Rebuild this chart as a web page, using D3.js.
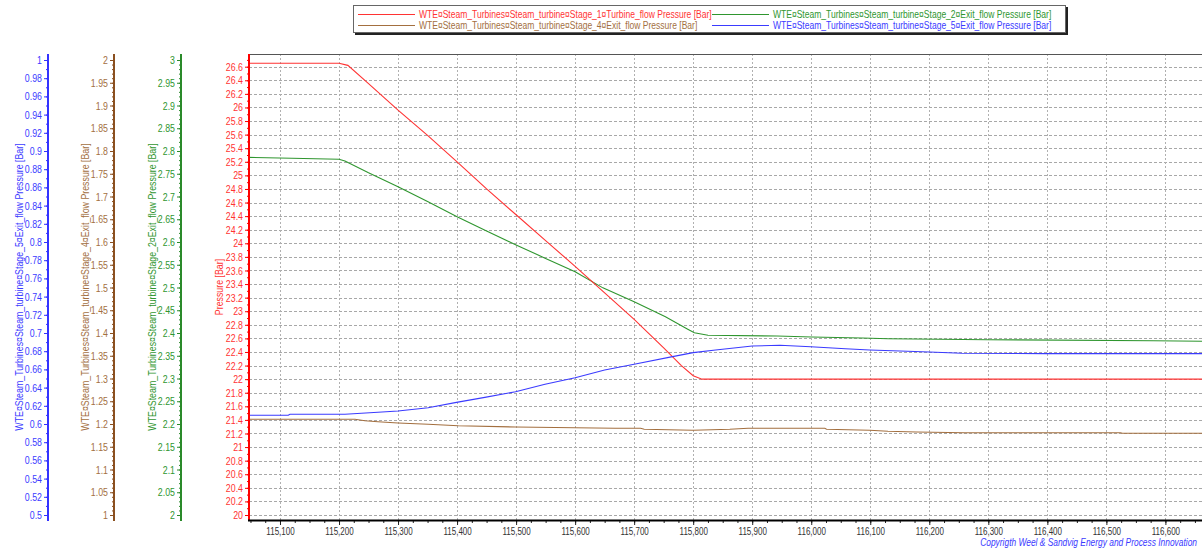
<!DOCTYPE html>
<html>
<head>
<meta charset="utf-8">
<script src="https://cdn.jsdelivr.net/npm/d3@7"></script>
<style>
  body { margin: 0; background: #fff; }
  svg text { font-family: 'Liberation Sans', Arial, sans-serif; font-size: 11px; }
</style>
</head>
<body>
<svg id="chart" width="1202" height="554"></svg>
<script>
// series data, time on x, each series in the units of its own axis
const redT   = [115047, 115100, 115200, 115215, 115250, 115300, 115350, 115400, 115450, 115500, 115550, 115600, 115650, 115700, 115750, 115780, 115800, 115815, 116000, 116300, 116662];
const redV   = [26.65, 26.65, 26.65, 26.62, 26.35, 25.96, 25.59, 25.2, 24.8, 24.42, 24.04, 23.66, 23.27, 22.88, 22.46, 22.2, 22.05, 22.0, 22.0, 22.0, 22.0];

const greenT = [115046, 115120, 115200, 115210, 115250, 115300, 115350, 115400, 115450, 115500, 115550, 115600, 115647, 115700, 115753, 115790, 115802, 115825, 115942, 116001, 116086, 116131, 116300, 116580, 116662];
const greenV = [2.786, 2.784, 2.782, 2.778, 2.752, 2.7215, 2.689, 2.6556, 2.624, 2.5934, 2.564, 2.5347, 2.4992, 2.4688, 2.4358, 2.409, 2.4007, 2.3949, 2.3934, 2.3912, 2.389, 2.3875, 2.3853, 2.3831, 2.3818];

const brownT = [115046, 115227, 115244, 115266, 115300, 115351, 115402, 115499, 115600, 115668, 115711, 115717, 115800, 115862, 115893, 116023, 116026, 116099, 116130, 116178, 116260, 116524, 116527, 116662];
const brownV = [1.2103, 1.2103, 1.2073, 1.2051, 1.2022, 1.1993, 1.1963, 1.1934, 1.1919, 1.1905, 1.1905, 1.1884, 1.1862, 1.1884, 1.1905, 1.1905, 1.1884, 1.1862, 1.184, 1.1824, 1.1809, 1.1809, 1.1796, 1.1796];

const blueT  = [115046, 115114, 115117, 115210, 115266, 115300, 115351, 115399, 115447, 115499, 115549, 115600, 115650, 115700, 115765, 115800, 115838, 115900, 115947, 115999, 116058, 116099, 116163, 116200, 116255, 116399, 116662];
const blueV  = [0.6096, 0.6096, 0.6107, 0.6107, 0.6129, 0.6143, 0.6179, 0.6238, 0.6293, 0.6355, 0.6436, 0.6509, 0.6593, 0.6656, 0.674, 0.6784, 0.6813, 0.6857, 0.6865, 0.6849, 0.6827, 0.6813, 0.6799, 0.6791, 0.6777, 0.6773, 0.6773];

// tick labels
const xTicks     = d3.range(115100, 116601, 100);
const xMinor     = d3.range(115050, 116661, 25);
const mainTicks  = d3.range(0, 34).map(i => 20 + i * 0.2);
const mainMinor  = d3.range(0, 68).map(i => 20 + i * 0.1);
const blueTicks  = d3.range(0, 26).map(i => 0.5 + i * 0.02);
const blueMinor  = d3.range(0, 51).map(i => 0.5 + i * 0.01);
const brownTicks = d3.range(0, 21).map(i => 1 + i * 0.05);
const brownMinor = d3.range(0, 101).map(i => 1 + i * 0.01);
const greenTicks = d3.range(0, 21).map(i => 2 + i * 0.05);
const greenMinor = d3.range(0, 101).map(i => 2 + i * 0.01);

const legendNames = [
  'WTE¤Steam_Turbines¤Steam_turbine¤Stage_1¤Turbine_flow Pressure [Bar]',
  'WTE¤Steam_Turbines¤Steam_turbine¤Stage_2¤Exit_flow Pressure [Bar]',
  'WTE¤Steam_Turbines¤Steam_turbine¤Stage_4¤Exit_flow Pressure [Bar]',
  'WTE¤Steam_Turbines¤Steam_turbine¤Stage_5¤Exit_flow Pressure [Bar]'
];

const plot = {left: 249, right: 1202, top: 54, bottom: 520};
const colRed = '#ff3333', colGreen = '#2f962f', colBrown = '#a36f3f', colBlue = '#3b3bff';

const svg = d3.select('#chart');

const x = d3.scaleLinear().domain([115047.5, 116662]).range([plot.left, plot.right]);
const yMain  = d3.scaleLinear().domain([20, 26.6]).range([515, 66.7]);
const yBlue  = d3.scaleLinear().domain([0.5, 1]).range([515, 60]);
const yBrown = d3.scaleLinear().domain([1, 2]).range([515, 60]);
const yGreen = d3.scaleLinear().domain([2, 3]).range([515, 60]);

const fmt = d => String(+d.toFixed(3));

// grid
const grid = svg.append('g');
grid.selectAll('.hg').data(mainTicks).enter().append('line')
  .attr('x1', plot.left).attr('x2', plot.right)
  .attr('y1', d => Math.round(yMain(d)) + 0.5).attr('y2', d => Math.round(yMain(d)) + 0.5)
  .attr('stroke', '#a8a8a8').attr('stroke-dasharray', '3,2');
grid.selectAll('.vg').data(xTicks).enter().append('line')
  .attr('x1', d => Math.round(x(d)) + 0.5).attr('x2', d => Math.round(x(d)) + 0.5)
  .attr('y1', plot.top).attr('y2', plot.bottom)
  .attr('stroke', '#b0b0b0').attr('stroke-dasharray', '2,2');

// top border
svg.append('line').attr('x1', plot.left).attr('x2', plot.right)
  .attr('y1', plot.top + 0.5).attr('y2', plot.top + 0.5).attr('stroke', '#555');

// series
function drawSeries(ts, vs, y, color) {
  const pts = ts.map((t, i) => [t, vs[i]]);
  svg.append('path').datum(pts)
    .attr('fill', 'none').attr('stroke', color).attr('stroke-width', 1.1)
    .attr('d', d3.line().x(d => x(d[0])).y(d => y(d[1])));
}
drawSeries(brownT, brownV, yBrown, colBrown);
drawSeries(greenT, greenV, yGreen, colGreen);
drawSeries(redT, redV, yMain, colRed);
drawSeries(blueT, blueV, yBlue, colBlue);

// y axes
function yAxis(xPos, scale, ticks, minor, lineCol, textCol, title, titleX) {
  const g = svg.append('g').attr('transform', `translate(${xPos},0)`);
  g.call(d3.axisLeft(scale).tickValues(minor).tickSize(2).tickFormat(''))
    .call(a => a.select('.domain').remove());
  g.selectAll('line').attr('stroke', lineCol);
  const m = svg.append('g').attr('transform', `translate(${xPos},0)`);
  m.call(d3.axisLeft(scale).tickValues(ticks).tickSize(4).tickPadding(2).tickFormat(fmt))
    .call(a => a.select('.domain').remove());
  m.selectAll('line').attr('stroke', lineCol);
  m.selectAll('text').attr('fill', textCol).style('font-size', '11px');
  svg.append('line').attr('x1', xPos).attr('x2', xPos)
    .attr('y1', plot.top).attr('y2', plot.bottom + 1)
    .attr('stroke', lineCol).attr('stroke-width', 2);
  svg.append('text')
    .attr('transform', `translate(${titleX},287) rotate(-90)`)
    .attr('text-anchor', 'middle').attr('dominant-baseline', 'middle')
    .attr('fill', textCol).text(title);
}
yAxis(48, yBlue, blueTicks, blueMinor, '#3333ff', colBlue, legendNames[3], 20);
yAxis(114, yBrown, brownTicks, brownMinor, '#8b5020', colBrown, legendNames[2], 86);
yAxis(181, yGreen, greenTicks, greenMinor, '#2a8a2a', colGreen, legendNames[1], 153);
yAxis(plot.left, yMain, mainTicks, mainMinor.filter(v => v < 26.75), '#ff0000', colRed, 'Pressure [Bar]', 220);

// x axis
const xa = svg.append('g').attr('transform', `translate(0,${plot.bottom})`);
xa.call(d3.axisBottom(x).tickValues(xMinor).tickSize(3).tickFormat(''))
  .call(a => a.select('.domain').remove());
const xm = svg.append('g').attr('transform', `translate(0,${plot.bottom})`);
xm.call(d3.axisBottom(x).tickValues(xTicks).tickSize(5).tickPadding(3).tickFormat(d3.format(',')))
  .call(a => a.select('.domain').remove());
xa.selectAll('line').attr('stroke', '#222');
xm.selectAll('line').attr('stroke', '#222');
xm.selectAll('text').attr('fill', '#333').style('font-size', '10px');
svg.append('line').attr('x1', plot.left - 1).attr('x2', plot.right)
  .attr('y1', plot.bottom + 0.5).attr('y2', plot.bottom + 0.5)
  .attr('stroke', '#000').attr('stroke-width', 2);

// the original uses a narrow face, squeeze every label horizontally
function squeeze(sel, k) {
  sel.each(function() {
    const len = this.getComputedTextLength();
    if (len > 0) d3.select(this).attr('textLength', len * k).attr('lengthAdjust', 'spacingAndGlyphs');
  });
}
squeeze(svg.selectAll('text'), 0.8);

// footer, squeezed with a transform so it ends inside the frame
svg.append('text')
  .attr('transform', 'translate(1197,546) scale(0.8,1)')
  .attr('text-anchor', 'end')
  .attr('fill', '#3a3aff').style('font-style', 'italic').style('font-size', '10.5px')
  .text('Copyrigth Weel & Sandvig Energy and Process Innovation');

// legend
const lg = svg.append('g');
lg.append('rect').attr('x', 355).attr('y', 7).attr('width', 713).attr('height', 28).attr('fill', '#222');
lg.append('rect').attr('x', 353.5).attr('y', 5.5).attr('width', 712).attr('height', 27)
  .attr('fill', '#fff').attr('stroke', '#666');
const legendItems = [
  {name: legendNames[0], col: colRed,   lx: 358, ty: 14},
  {name: legendNames[1], col: colGreen, lx: 712, ty: 14},
  {name: legendNames[2], col: colBrown, lx: 358, ty: 25},
  {name: legendNames[3], col: colBlue,  lx: 712, ty: 25}
];
legendItems.forEach(d => {
  lg.append('line').attr('x1', d.lx).attr('x2', d.lx + 57)
    .attr('y1', d.ty + 0.5).attr('y2', d.ty + 0.5).attr('stroke', d.col);
  lg.append('text').attr('x', d.lx + 61).attr('y', d.ty + 4)
    .attr('fill', d.col).text(d.name);
});
squeeze(lg.selectAll('text'), 0.775);
</script>
</body>
</html>
